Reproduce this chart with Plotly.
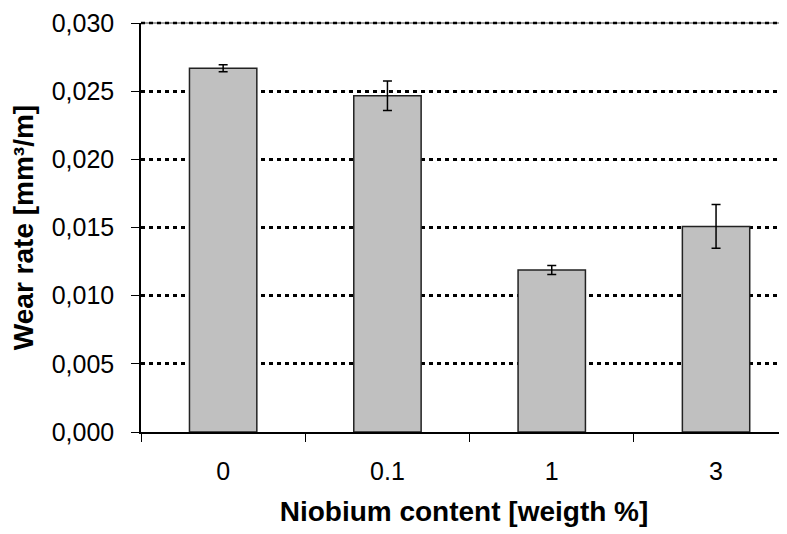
import plotly.graph_objects as go

categories = ["0", "0.1", "1", "3"]
wear_rate = [0.02668, 0.02467, 0.01189, 0.01508]
wear_err = [0.00025, 0.00108, 0.00033, 0.00160]
y_ticks = [0.000, 0.005, 0.010, 0.015, 0.020, 0.025, 0.030]

fig = go.Figure()
fig.add_trace(go.Bar(
    x=categories, y=wear_rate,
    width=0.41,
    marker=dict(color="#C0C0C0", line=dict(color="#222222", width=1.5)),
    error_y=dict(type="data", array=wear_err, visible=True,
                 color="black", thickness=1.5, width=4.5),
))

# top border: thin solid line with the dotted gridline over it
fig.add_shape(type="line", xref="paper", yref="paper", x0=0, x1=1, y0=1, y1=1,
              line=dict(color="#444444", width=1), layer="above")
fig.add_shape(type="line", xref="paper", yref="paper", x0=0, x1=1, y0=1, y1=1,
              line=dict(color="black", width=2.5, dash="4px,4px"), layer="above")

font_family = "Liberation Sans, Arial, sans-serif"
fig.update_layout(
    width=779, height=526,
    margin=dict(l=133, r=0, t=15, b=102),
    plot_bgcolor="white", paper_bgcolor="white",
    separators=",.",
    showlegend=False,
    font=dict(family=font_family, size=25, color="black"),
    xaxis=dict(
        type="category",
        range=[-0.5, -0.5 + 646 / 164.3],
        tickson="boundaries",
        ticks="outside", ticklen=8, tickwidth=1, tickcolor="black",
        showline=True, linecolor="black", linewidth=1.5,
        showgrid=False,
        ticklabelstandoff=16,
        tickfont=dict(size=25),
        title=dict(text="<b>Niobium content [weigth %]</b>", font=dict(size=28), standoff=18),
    ),
    yaxis=dict(
        range=[0, 0.030],
        tickvals=y_ticks,
        tickformat=".3f",
        ticks="outside", ticklen=8, tickwidth=1, tickcolor="black",
        showline=True, linecolor="black", linewidth=1.5,
        showgrid=True, gridcolor="black", gridwidth=2.5, griddash="4px,4px",
        zeroline=False,
        ticklabelstandoff=12,
        tickfont=dict(size=25),
        title=dict(text="<b>Wear rate [mm³/m]</b>", font=dict(size=28), standoff=10),
    ),
)

fig.write_html("out.html")
